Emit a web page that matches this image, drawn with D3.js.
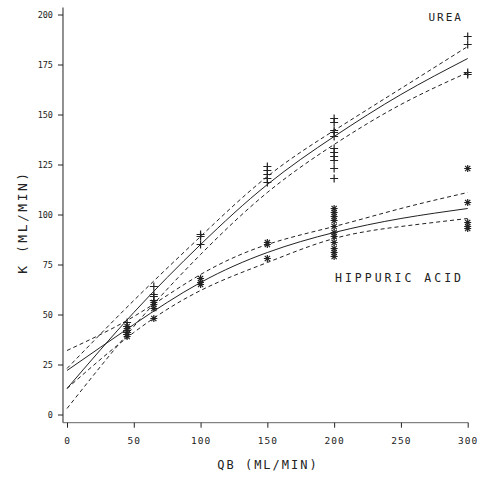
<!DOCTYPE html>
<html><head><meta charset="utf-8">
<script src="https://cdn.jsdelivr.net/npm/d3@7"></script>
<style>body{margin:0;background:#fff}svg{display:block}</style>
</head><body>
<script>
// ---- data ----
const xTicks = [0, 50, 100, 150, 200, 250, 300];
const yTicks = [0, 25, 50, 75, 100, 125, 150, 175, 200];

const ureaQB = [45,45,45,45,45, 65,65,65,65, 100,100,100, 150,150,150,150,150,
  200,200,200,200,200,200,200,200,200,200,200, 300,300,300,300];
const ureaK  = [46,44,42,41,40, 64,60,59,57, 90,89,85, 124,122,120,118,116,
  148,146,142,141,139,133,131,129,127,123,118, 189,185,171,170];

const hipQB = [45,45,45,45,45, 65,65,65,65, 100,100,100, 150,150,150,
  200,200,200,200,200,200,200,200,200,200,200, 300,300,300,300,300];
const hipK  = [44,43,41,40,39, 56,55,53,48, 68,66,65, 86,85,78,
  103,101,99,97,94,91,89,86,83,81,79, 123,106,96,94,93];

const fitQB = [0, 50, 100, 150, 200, 250, 300];
const ureaFit   = [13, 51, 85, 115, 139, 160, 178];
const ureaUpper = [23, 57, 89, 119, 142, 163, 184];
const ureaLower = [3, 44, 80, 111, 135, 155, 171];
const hipFit    = [22, 45, 66, 81, 91, 98, 103];
const hipUpper  = [32, 49, 70, 85, 94, 103, 111];
const hipLower  = [13, 41, 62, 76, 88, 94, 98];

// ---- drawing ----
const W = 478, H = 483;
const svg = d3.select("body").append("svg").attr("width", W).attr("height", H);
const x = d3.scaleLinear().domain([0, 300]).range([67, 467.7]);
const y = d3.scaleLinear().domain([0, 200]).range([414.5, 14.5]);
const font = "'DejaVu Sans Mono', monospace";
const ink = "#222";

// axes lines
svg.append("line").attr("x1", x(-3)).attr("x2", x(-3)).attr("y1", y(203.5)).attr("y2", y(-4.1))
  .attr("stroke", ink).attr("stroke-width", 1);
svg.append("line").attr("x1", x(-3)).attr("x2", x(300.5)).attr("y1", y(-4.1)).attr("y2", y(-4.1))
  .attr("stroke", "#666").attr("stroke-width", 1);

const yAxis = svg.append("g").attr("transform", `translate(${x(-3)},0)`)
  .call(d3.axisLeft(y).tickValues(yTicks).tickSize(5).tickPadding(5));
yAxis.select(".domain").remove();
yAxis.selectAll("text").attr("font-family", font).attr("font-size", 8.5).attr("fill", ink);
yAxis.selectAll("line").attr("stroke", ink);

const xAxis = svg.append("g").attr("transform", `translate(0,${y(-4.1)})`)
  .call(d3.axisBottom(x).tickValues(xTicks).tickSize(5).tickPadding(10));
xAxis.select(".domain").remove();
xAxis.selectAll("text").attr("font-family", font).attr("font-size", 9.5).attr("fill", ink)
  .attr("letter-spacing", 1);
xAxis.selectAll("line").attr("stroke", ink);

// titles
svg.append("text").attr("x", 268).attr("y", 469).attr("text-anchor", "middle")
  .attr("font-family", font).attr("font-size", 12).attr("letter-spacing", 2).attr("fill", ink)
  .text("QB  (ML/MIN)");
svg.append("text").attr("transform", `translate(27,222) rotate(-90)`).attr("text-anchor", "middle")
  .attr("font-family", font).attr("font-size", 13).attr("letter-spacing", 2.5).attr("fill", ink)
  .text("K  (ML/MIN)");
svg.append("text").attr("x", 463).attr("y", 21).attr("text-anchor", "end")
  .attr("font-family", font).attr("font-size", 11).attr("letter-spacing", 2).attr("fill", ink)
  .text("UREA");
svg.append("text").attr("x", 464).attr("y", 282).attr("text-anchor", "end")
  .attr("font-family", font).attr("font-size", 11.5).attr("letter-spacing", 3).attr("fill", ink)
  .text("HIPPURIC ACID");

// curves
const line = d3.line().x((d, i) => x(fitQB[i])).y(d => y(d)).curve(d3.curveNatural);
function drawCurve(arr, dashed) {
  svg.append("path").attr("d", line(arr)).attr("fill", "none").attr("stroke", ink)
    .attr("stroke-width", 1).attr("stroke-dasharray", dashed ? "4,3" : null);
}
drawCurve(ureaFit, false); drawCurve(ureaUpper, true); drawCurve(ureaLower, true);
drawCurve(hipFit, false); drawCurve(hipUpper, true); drawCurve(hipLower, true);

// markers
const plus = "M-4,0H4M0,-4V4";
const star = "M-3.5,0H3.5M0,-3.5V3.5M-2.6,-2.6L2.6,2.6M-2.6,2.6L2.6,-2.6";
svg.append("g").selectAll("path").data(ureaK).join("path")
  .attr("transform", (d, i) => `translate(${x(ureaQB[i])},${y(d)})`)
  .attr("d", plus).attr("stroke", ink).attr("stroke-width", 1.2).attr("fill", "none");
svg.append("g").selectAll("path").data(hipK).join("path")
  .attr("transform", (d, i) => `translate(${x(hipQB[i])},${y(d)})`)
  .attr("d", star).attr("stroke", ink).attr("stroke-width", 1.2).attr("fill", "none");
</script>
</body></html>
